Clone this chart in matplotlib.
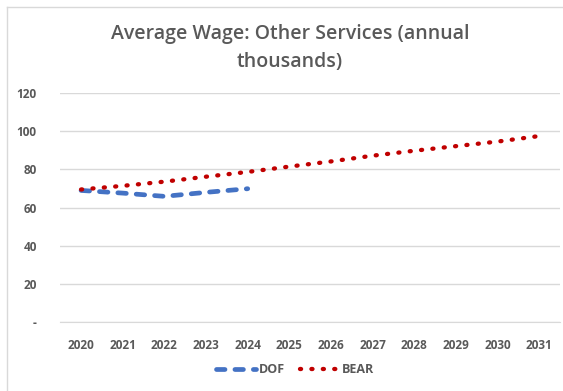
import matplotlib
matplotlib.use("Agg")
from matplotlib import pyplot as plt
from matplotlib.lines import Line2D

# Chart data (annual thousands)
years = [2020, 2021, 2022, 2023, 2024, 2025, 2026, 2027, 2028, 2029, 2030, 2031]
dof_years = [2020, 2021, 2022, 2023, 2024]
dof_values = [69.0, 67.6, 65.9, 68.0, 69.9]
bear_values = [69.5, 71.4, 73.6, 76.2, 78.7, 81.5, 84.2, 87.2, 89.8, 92.2, 94.6, 97.5]
y_ticks = [0, 20, 40, 60, 80, 100, 120]
y_labels = ['-', '20', '40', '60', '80', '100', '120']

plt.rcParams['font.family'] = ['Open Sans', 'DejaVu Sans']
text_color = '#595959'

fig = plt.figure(figsize=(5.63, 3.91), dpi=100)
ax = fig.add_axes([0.107, 0.176, 0.888, 0.586])

ax.plot(dof_years, dof_values, color='#4472C4', linewidth=3.4,
        linestyle=(0, (1.8, 2.1)), dash_capstyle='round', label='DOF', zorder=3)
ax.plot(years, bear_values, color='#C00000', linewidth=3.1,
        linestyle=(0, (0.25, 2.4)), dash_capstyle='round', label='BEAR', zorder=3)

ax.set_xlim(2019.5, 2031.5)
ax.set_ylim(0, 120)
ax.set_xticks(years)
ax.set_xticklabels([str(y) for y in years])
ax.set_yticks(y_ticks)
ax.set_yticklabels(y_labels)
ax.tick_params(axis='both', length=0, labelsize=8.5, labelcolor=text_color, pad=12)
ax.tick_params(axis='y', pad=17)
for lbl in ax.get_xticklabels() + ax.get_yticklabels():
    lbl.set_fontweight('bold')

ax.grid(axis='y', color='#d9d9d9', linewidth=1)
for side in ['top', 'right', 'left']:
    ax.spines[side].set_visible(False)
ax.spines['bottom'].set_color('#d9d9d9')
ax.set_axisbelow(True)

fig.text(0.515, 0.913, 'Average Wage: Other Services (annual', ha='center', va='center',
         fontsize=14, fontweight='semibold', color=text_color)
fig.text(0.515, 0.842, 'thousands)', ha='center', va='center',
         fontsize=14, fontweight='semibold', color=text_color)

leg = ax.legend(loc='upper center', bbox_to_anchor=(0.47, -0.13), ncol=2, frameon=False,
                fontsize=9, handlelength=3.2, columnspacing=1.2, handletextpad=0.2)
for t in leg.get_texts():
    t.set_color(text_color)
    t.set_fontweight('bold')

# light chart border on top and left
fig.add_artist(Line2D([7 / 563, 1], [1 - 7 / 391, 1 - 7 / 391], color='#d9d9d9', linewidth=1))
fig.add_artist(Line2D([7 / 563, 7 / 563], [0, 1 - 7 / 391], color='#d9d9d9', linewidth=1))

fig.savefig('out.png', dpi=100)
